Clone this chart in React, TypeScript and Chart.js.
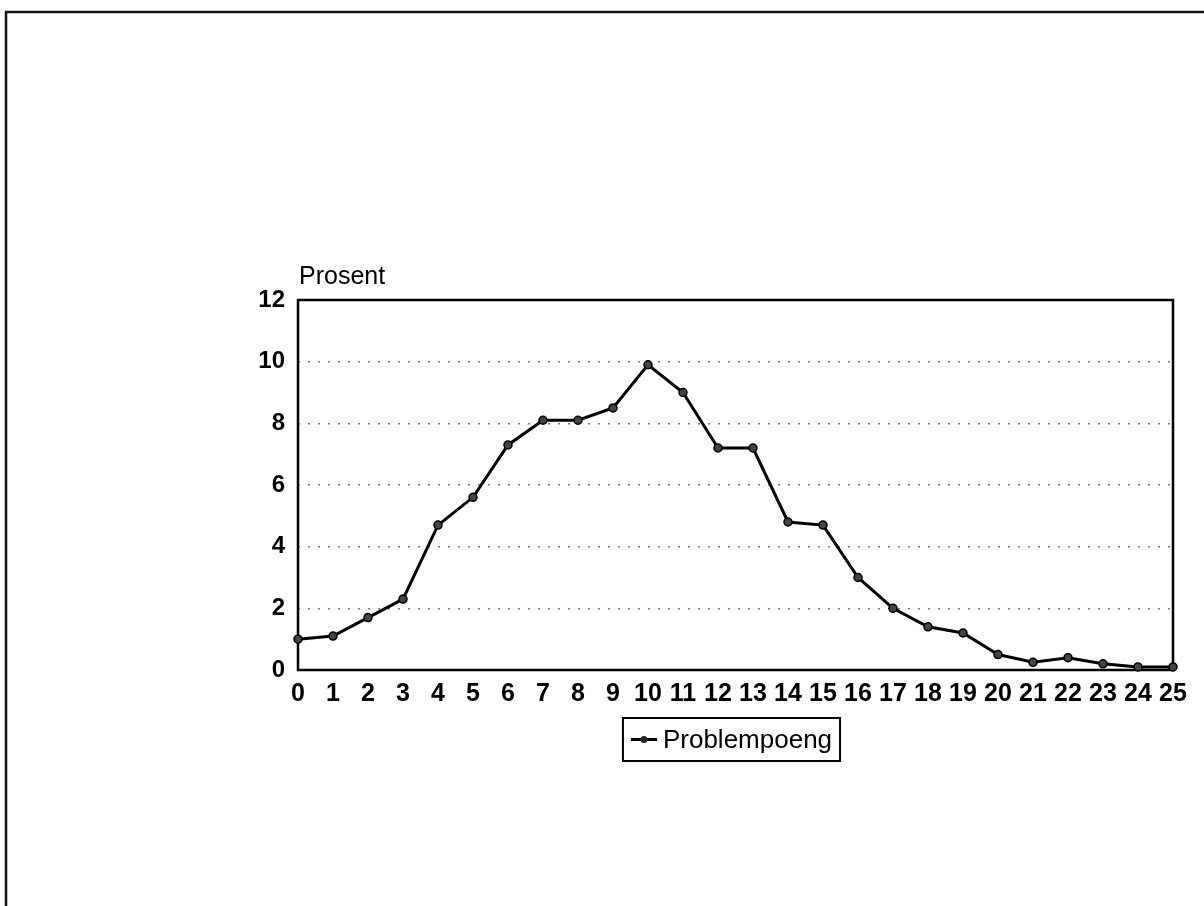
import React, { useEffect, useRef } from "react";
import { Chart, registerables } from "chart.js";

Chart.register(...registerables);

const categories: string[] = [
  "0", "1", "2", "3", "4", "5", "6", "7", "8", "9", "10", "11", "12",
  "13", "14", "15", "16", "17", "18", "19", "20", "21", "22", "23", "24", "25",
];
const problempoeng: number[] = [
  1.0, 1.1, 1.7, 2.3, 4.7, 5.6, 7.3, 8.1, 8.1, 8.5, 9.9, 9.0, 7.2,
  7.2, 4.8, 4.7, 3.0, 2.0, 1.4, 1.2, 0.5, 0.25, 0.4, 0.2, 0.1, 0.1,
];
const seriesLabel = "Problempoeng";
const yAxisTitle = "Prosent";
const yMin = 0;
const yMax = 12;
const yStep = 2;

const FONT = "'Liberation Sans', Arial, Helvetica, sans-serif";

export default function App() {
  const ref = useRef<HTMLCanvasElement | null>(null);

  useEffect(() => {
    if (!ref.current) return;
    const decor = {
      id: "decor",
      beforeDatasetsDraw(chart: any) {
        const { ctx, chartArea } = chart;
        ctx.save();
        ctx.strokeStyle = "#000";
        ctx.lineWidth = 2.5;
        ctx.strokeRect(
          chartArea.left,
          chartArea.top,
          chartArea.right - chartArea.left,
          chartArea.bottom - chartArea.top
        );
        ctx.restore();
      },
      afterDraw(chart: any) {
        const { ctx, chartArea } = chart;
        ctx.save();
        // outer frame (only left and top visible)
        ctx.strokeStyle = "#111";
        ctx.lineWidth = 2.5;
        ctx.beginPath();
        ctx.moveTo(6, 906);
        ctx.lineTo(6, 12);
        ctx.lineTo(1204, 12);
        ctx.stroke();

        // axis title
        ctx.fillStyle = "#000";
        ctx.font = `25px ${FONT}`;
        ctx.textAlign = "left";
        ctx.textBaseline = "middle";
        ctx.fillText(yAxisTitle, chartArea.left + 1, chartArea.top - 23);

        // legend
        const cx = (chartArea.left + chartArea.right) / 2;
        ctx.font = `26px ${FONT}`;
        const tw = ctx.measureText(seriesLabel).width;
        const symW = 26;
        const gap = 6;
        const padX = 8;
        const boxW = padX + symW + gap + tw + padX;
        const boxH = 43;
        const bx = cx - boxW / 2 - 4;
        const by = 718;
        ctx.lineWidth = 2;
        ctx.strokeStyle = "#000";
        ctx.strokeRect(bx, by, boxW, boxH);
        const my = by + boxH / 2;
        ctx.lineWidth = 3;
        ctx.beginPath();
        ctx.moveTo(bx + padX, my);
        ctx.lineTo(bx + padX + symW, my);
        ctx.stroke();
        ctx.beginPath();
        ctx.arc(bx + padX + symW / 2, my, 3.5, 0, Math.PI * 2);
        ctx.fillStyle = "#222";
        ctx.fill();
        ctx.fillStyle = "#000";
        ctx.textAlign = "left";
        ctx.textBaseline = "middle";
        ctx.fillText(seriesLabel, bx + padX + symW + gap, my + 1);
        ctx.restore();
      },
    };

    const chart = new Chart(ref.current, {
      type: "line",
      data: {
        labels: categories,
        datasets: [
          {
            label: seriesLabel,
            data: problempoeng,
            borderColor: "#000",
            borderWidth: 3,
            pointRadius: 4,
            pointBackgroundColor: "#444",
            pointBorderColor: "#000",
            pointBorderWidth: 1.5,
            tension: 0,
            clip: false as any,
          },
        ],
      },
      options: {
        animation: false,
        responsive: false,
        layout: { padding: { left: 0, top: 300, right: 31, bottom: 0 } },
        plugins: {
          legend: { display: false },
          tooltip: { enabled: false },
          title: { display: false },
        },
        scales: {
          x: {
            type: "category",
            offset: false,
            grid: { display: false, drawTicks: false },
            border: { display: false },
            ticks: {
              autoSkip: false,
              maxRotation: 0,
              padding: 9,
              color: "#000",
              font: { family: FONT, size: 25, weight: "bold" },
            },
            afterFit(scale: any) {
              scale.height = 236;
            },
          },
          y: {
            min: yMin,
            max: yMax,
            grid: {
              drawTicks: false,
              color: (c: any) =>
                c.tick && (c.tick.value === yMin || c.tick.value === yMax)
                  ? "rgba(0,0,0,0)"
                  : "#777",
              lineWidth: 1.6,
            },
            border: { display: false, dash: [2, 8] },
            ticks: {
              stepSize: yStep,
              padding: 13,
              color: "#000",
              font: { family: FONT, size: 24, weight: "bold" },
            },
            afterFit(scale: any) {
              scale.width = 298;
            },
          },
        },
      } as any,
      plugins: [decor],
    });
    return () => chart.destroy();
  }, []);

  return (
    <div
      style={{
        position: "fixed",
        left: 0,
        top: 0,
        width: 1204,
        height: 906,
        background: "#fff",
      }}
    >
      <canvas ref={ref} width={1204} height={906} style={{ display: "block" }} />
    </div>
  );
}
